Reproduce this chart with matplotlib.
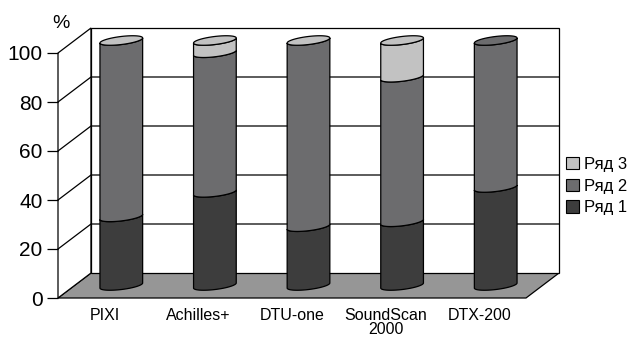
import numpy as np
import matplotlib
matplotlib.use("Agg")
import matplotlib.pyplot as plt
from matplotlib.patches import Polygon, Patch

plt.rcParams["font.family"] = ["Liberation Sans", "DejaVu Sans"]

categories = ["PIXI", "Achilles+", "DTU-one", "SoundScan\n2000", "DTX-200"]
row1 = [28, 38, 24, 26, 40]
row2 = [72, 57, 76, 59, 60]
row3 = [0, 5, 0, 15, None]   # None -> series absent, no light cap
series_names = ["Ряд 1", "Ряд 2", "Ряд 3"]
yticks = [0, 20, 40, 60, 80, 100]

colors = ["#3d3d3d", "#6c6c6e", "#c2c2c2"]
floor_color = "#969696"

W, H = 627, 338
fig = plt.figure(figsize=(W / 100, H / 100), dpi=100)
# front plane of the 3D box
left_px, bottom_px, width_px, height_px = 58, 40, 468, 245
ax = fig.add_axes([left_px / W, bottom_px / H, width_px / W, height_px / H])
n = len(categories)
ax.set_xlim(0, n)
ax.set_ylim(0, 100)
ax.patch.set_visible(False)
for s in ax.spines.values():
    s.set_visible(False)

# pixels per data unit
PX_X = width_px / n
PX_Y = height_px / 100
# depth of the box (in data units)
DX = 33 / PX_X
DY = 25 / PX_Y

kw = dict(clip_on=False, lw=0.9, ec="black")
# floor, left wall, back wall
ax.add_patch(Polygon([(0, 0), (n, 0), (n + DX, DY), (DX, DY)], fc=floor_color, zorder=1, **kw))
ax.add_patch(Polygon([(0, 0), (DX, DY), (DX, 100 + DY), (0, 100)], fc="white", zorder=1, **kw))
ax.add_patch(Polygon([(DX, DY), (n + DX, DY), (n + DX, 100 + DY), (DX, 100 + DY)], fc="white", zorder=1, **kw))
for v in yticks[1:-1]:
    ax.plot([0, DX, n + DX], [v, v + DY, v + DY], color="black", lw=0.9, zorder=1.5, clip_on=False)

# cylinder geometry (in pixels)
RA, RB, TILT = 21.5, 4.0, np.deg2rad(7)
t0 = np.arctan2(-RB * np.sin(TILT), RA * np.cos(TILT))


def ellipse_pts(cx, cy, t):
    xp = RA * np.cos(t) * np.cos(TILT) - RB * np.sin(t) * np.sin(TILT)
    yp = RA * np.cos(t) * np.sin(TILT) + RB * np.sin(t) * np.cos(TILT)
    return np.column_stack([cx + xp / PX_X, cy + yp / PX_Y])


front = np.linspace(t0 + np.pi, t0 + 2 * np.pi, 60)
full = np.linspace(0, 2 * np.pi, 120)

for i in range(n):
    cx = i + 0.5 + DX / 2
    base = DY / 2
    vals = [row1[i], row2[i], row3[i]]
    bottom = 0
    top_color = None
    for k, v in enumerate(vals):
        if v is None:
            continue
        top_color = colors[k]
        if v <= 0:
            continue
        lo = ellipse_pts(cx, base + bottom, front)
        hi = ellipse_pts(cx, base + bottom + v, front)[::-1]
        ax.add_patch(Polygon(np.vstack([lo, hi]), fc=colors[k], zorder=3 + k, **kw))
        bottom += v
    ax.add_patch(Polygon(ellipse_pts(cx, base + bottom, full), fc=top_color, zorder=7, **kw))

ax.set_yticks(yticks)
ax.tick_params(axis="y", length=8, width=0.9, pad=3, labelsize=15, direction="out")
ax.set_xticks(np.arange(n) + 0.5)
ax.set_xticklabels(categories, fontsize=11.5, linespacing=0.9)
ax.tick_params(axis="x", length=0, pad=7)

fig.text(61 / W, 1 - 23 / H, "%", fontsize=14, va="center", ha="center")

handles = [Patch(fc=colors[k], ec="black", lw=0.8, label=series_names[k]) for k in (2, 1, 0)]
fig.legend(handles=handles, loc="upper left", bbox_to_anchor=(566 / W, 1 - 157 / H),
           frameon=False, fontsize=12, handlelength=0.75, handleheight=0.75,
           handletextpad=0.3, labelspacing=0.4, borderpad=0, borderaxespad=0)

fig.savefig("out.png", dpi=100)
